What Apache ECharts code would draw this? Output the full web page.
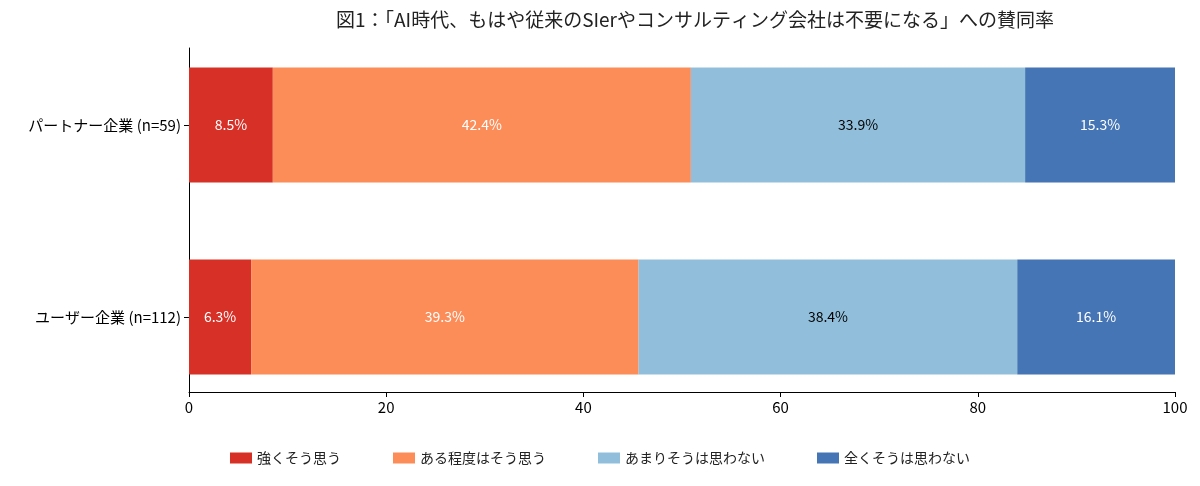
<!DOCTYPE html>
<html><head><meta charset="utf-8">
<script src="https://cdn.jsdelivr.net/npm/echarts@6/dist/echarts.min.js"></script>
<style>html,body{margin:0;background:#fff}#main{width:1200px;height:486px}</style>
</head><body><div id="main"></div>
<script>
var categories = ['ユーザー企業 (n=112)', 'パートナー企業 (n=59)'];
var seriesNames = ['強くそう思う', 'ある程度はそう思う', 'あまりそうは思わない', '全くそうは思わない'];
var strong = [6.3, 8.5];
var somewhat = [39.3, 42.4];
var notReally = [38.4, 33.9];
var notAtAll = [16.1, 15.3];
var colors = ['#d73027', '#fc8d59', '#91bfdb', '#4575b4'];
var labelColors = ['#fff', '#fff', '#000', '#fff'];
var values = [strong, somewhat, notReally, notAtAll];

var font = '"Noto Sans CJK JP", "Noto Sans", sans-serif';
var chart = echarts.init(document.getElementById('main'));
chart.setOption({
  textStyle: { fontFamily: font },
  title: {
    text: '図1：「AI時代、もはや従来のSIerやコンサルティング会社は不要になる」への賛同率',
    left: 690, top: 5, textAlign: 'center',
    textStyle: { fontSize: 19, fontWeight: 'normal', color: '#222', fontFamily: font }
  },
  legend: {
    bottom: 16, left: 'center', itemWidth: 22, itemHeight: 11, itemGap: 52, icon: 'rect',
    textStyle: { fontSize: 14, color: '#222', fontFamily: font }
  },
  grid: [
    { left: 189, right: 25, top: 29, bottom: 73 },   // bars
    { left: 189, right: 25, top: 48, bottom: 94 }    // visible axes
  ],
  xAxis: [
    { gridIndex: 0, type: 'value', min: 0, max: 100, show: false },
    {
      gridIndex: 1, type: 'value', min: 0, max: 100, interval: 20,
      splitLine: { show: false },
      axisLine: { show: true, lineStyle: { color: '#000' } },
      axisTick: { show: true, length: 5, lineStyle: { color: '#000' } },
      axisLabel: { fontSize: 15, color: '#000' }
    }
  ],
  yAxis: [
    {
      gridIndex: 0, type: 'category', data: categories,
      axisLine: { show: false },
      axisTick: { show: true, alignWithLabel: true, length: 5, lineStyle: { color: '#000' } },
      axisLabel: { fontSize: 15, color: '#000', margin: 8 }
    },
    {
      gridIndex: 1, type: 'value', min: 0, max: 1,
      splitLine: { show: false }, axisTick: { show: false }, axisLabel: { show: false },
      axisLine: { show: true, lineStyle: { color: '#000' } }
    }
  ],
  series: seriesNames.map(function (name, i) {
    return {
      name: name, type: 'bar', stack: 'total', data: values[i],
      xAxisIndex: 0, yAxisIndex: 0,
      barWidth: '60%',
      itemStyle: { color: colors[i] },
      label: { show: true, position: 'inside', formatter: '{c}%', fontSize: 14, color: labelColors[i] }
    };
  })
});
</script></body></html>
